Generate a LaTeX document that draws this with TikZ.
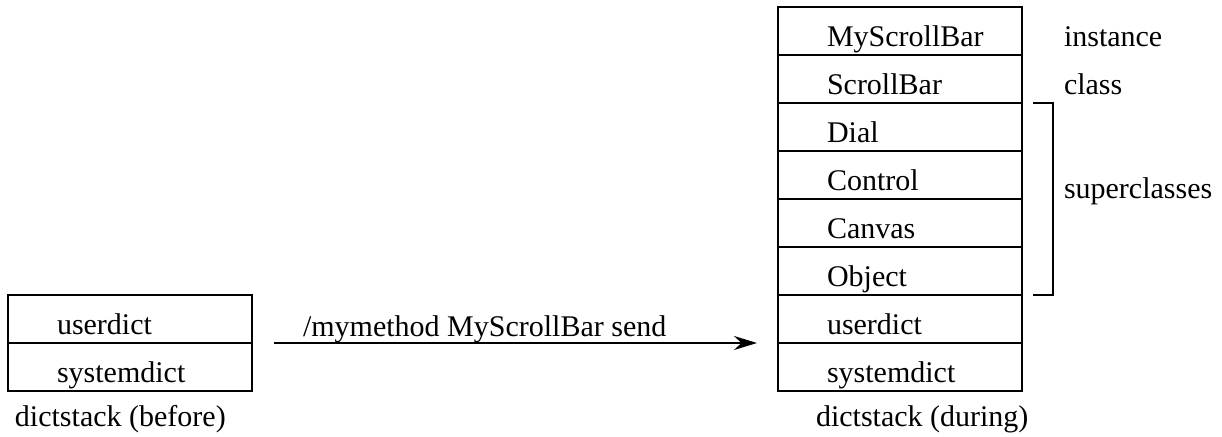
\documentclass[tikz,border=0pt]{standalone}
\usepackage{fontspec}
\setmainfont{Liberation Serif}
\usetikzlibrary{positioning,arrows.meta}

\begin{document}
\begin{tikzpicture}[x=0.5pt, y=-0.5pt, line width=1pt, font=\fontsize{15}{18}\selectfont,
    cell/.style = {draw, outer sep=0pt, inner xsep=0pt, inner ysep=0pt, minimum width=122pt,
                   minimum height=24pt, text width=73pt, align=left, text height=16pt, text depth=0pt},
    side/.style = {anchor=base west, inner sep=0pt, xshift=20.5pt},
    caption/.style = {anchor=base west, inner sep=0pt}]
  \useasboundingbox (0,0) rectangle (1222,437);
  % stack before the send
  \node[cell] (u1) at (130,319) {userdict};
  \node[cell] (s1) [below=0pt of u1] {systemdict};
  \node[caption] (before) at ([xshift=3pt, yshift=-18pt]s1.south west) {dictstack (before)};
  % stack during the send
  \node[cell] (msb) at (900,31) {MyScrollBar};
  \node[cell] (scb) [below=0pt of msb] {ScrollBar};
  \node[cell] (dial) [below=0pt of scb] {Dial};
  \node[cell] (ctrl) [below=0pt of dial] {Control};
  \node[cell] (canv) [below=0pt of ctrl] {Canvas};
  \node[cell] (obj) [below=0pt of canv] {Object};
  \node[cell] (u2) [below=0pt of obj] {userdict};
  \node[cell] (s2) [below=0pt of u2] {systemdict};
  \node[caption] (during) at ([xshift=18.5pt, yshift=-18pt]s2.south west) {dictstack (during)};
  % side labels
  \node[side, yshift=4pt] (inst) at (msb.south east) {instance};
  \node[side, yshift=4pt] (cls) at (scb.south east) {class};
  \draw[line width=0.8pt] ([xshift=5.5pt]dial.north east) -- ++(10pt,0) |- ([xshift=5.5pt]obj.south east);
  \node[side] (sup) at (ctrl.south east) {superclasses};
  % the send
  \draw[-{Stealth[length=11.5pt,width=7pt]}, shorten <=11pt, shorten >=10.5pt] (u1.south east) -- (u2.south west);
  \node[caption] (msg) at ([xshift=25pt, yshift=3pt]u1.south east) {/mymethod MyScrollBar send};
\end{tikzpicture}
\end{document}
